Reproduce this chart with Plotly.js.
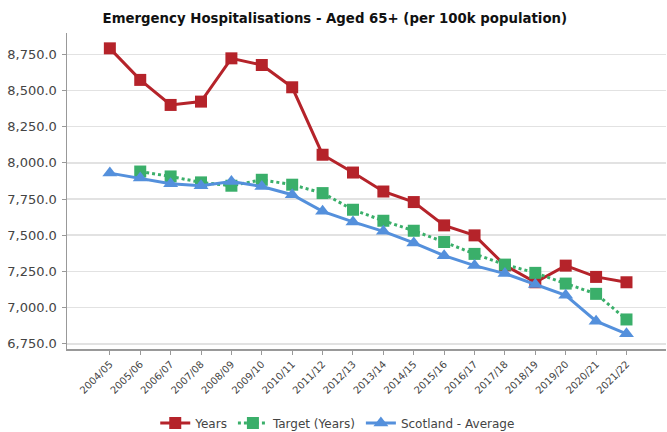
<!DOCTYPE html>
<html>
<head>
<meta charset="utf-8">
<script src="https://cdn.plot.ly/plotly-3.0.1.min.js"></script>
<style>html,body{margin:0;padding:0;background:#fff;}#chart{width:667px;height:432px;}</style>
</head>
<body>
<div id="chart"></div>
<script>
const categories = ["2004/05","2005/06","2006/07","2007/08","2008/09","2009/10","2010/11","2011/12","2012/13","2013/14","2014/15","2015/16","2016/17","2017/18","2018/19","2019/20","2020/21","2021/22"];
const years = [8791,8573,8400,8423,8722,8676,8522,8056,7933,7802,7729,7568,7499,7292,7175,7290,7212,7175];
const target = [null,7940,7906,7865,7842,7883,7849,7791,7676,7600,7531,7453,7371,7297,7240,7166,7095,6918];
const scotland = [7929,7895,7856,7842,7871,7837,7780,7665,7592,7527,7447,7359,7290,7235,7159,7085,6906,6819];
const yTickVals = [6750,7000,7250,7500,7750,8000,8250,8500,8750];

const traces = [
  {x: categories, y: years, name: "Years", type: "scatter", mode: "lines+markers",
   line: {color: "#b5232a", width: 3}, marker: {symbol: "square", size: 12, color: "#b5232a"}},
  {x: categories, y: target, name: "Target (Years)", type: "scatter", mode: "lines+markers",
   line: {color: "#3aaf6a", width: 3, dash: "dot"}, marker: {symbol: "square", size: 12, color: "#3aaf6a"}},
  {x: categories, y: scotland, name: "Scotland - Average", type: "scatter", mode: "lines+markers",
   line: {color: "#5490dc", width: 3}, marker: {symbol: "triangle-up", size: 13, color: "#5490dc"}}
];

const layout = {
  width: 667, height: 432,
  margin: {l: 67, r: 1, t: 33, b: 82.5},
  paper_bgcolor: "#fff", plot_bgcolor: "#fff",
  font: {family: "DejaVu Sans, Verdana, sans-serif", color: "#444"},
  title: {text: "<b>Emergency Hospitalisations - Aged 65+ (per 100k population)</b>", x: 0.502, xanchor: "center", y: 0.958, yanchor: "middle",
          font: {size: 13.3, color: "#111", family: "DejaVu Sans, Verdana, sans-serif"}},
  showlegend: true,
  legend: {orientation: "h", x: 0.452, xanchor: "center", xref: "paper", y: 0.021, yanchor: "middle", yref: "container",
           font: {size: 12, color: "#444"}, traceorder: "normal", itemwidth: 30},
  xaxis: {type: "category", range: [-1.41, 18.3], showgrid: false, zeroline: false,
          showline: true, linecolor: "#999", linewidth: 1.5,
          ticks: "outside", ticklen: 4, tickcolor: "#999", tickangle: -45,
          tickfont: {size: 10, color: "#444"}, fixedrange: true},
  yaxis: {range: [6714, 8897], tickvals: yTickVals, tickformat: ",.1f",
          showgrid: true, gridcolor: "#e2e2e2", gridwidth: 1.5, zeroline: false,
          showline: true, linecolor: "#999", linewidth: 1.5,
          ticks: "outside", ticklen: 4, tickcolor: "#999", ticklabelstandoff: 2,
          tickfont: {size: 13, color: "#444"}, fixedrange: true}
};

Plotly.newPlot("chart", traces, layout, {displayModeBar: false, staticPlot: true});
</script>
</body>
</html>
